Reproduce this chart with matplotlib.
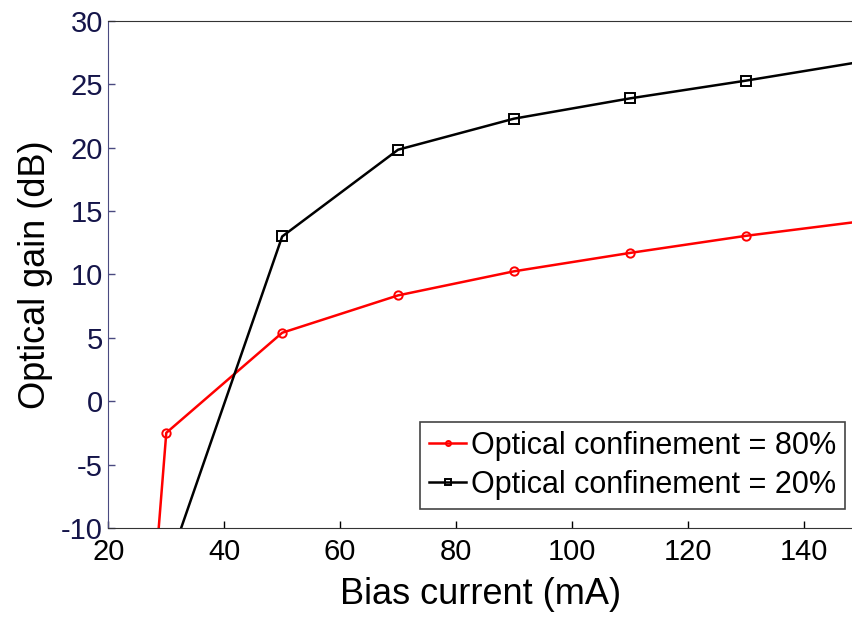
import numpy as np
import matplotlib.pyplot as plt

plt.rcParams['font.family'] = ['Liberation Sans', 'DejaVu Sans']
plt.rcParams['axes.unicode_minus'] = False

# bias current (mA) and optical gain (dB)
current_80 = [28, 30, 50, 70, 90, 110, 130, 150]
gain_80 = [-14.0, -2.5, 5.4, 8.35, 10.25, 11.7, 13.05, 14.2]
current_20 = [30, 50, 70, 90, 110, 130, 150]
gain_20 = [-13.4, 13.0, 19.85, 22.3, 23.9, 25.3, 26.8]

labels = ['Optical confinement = 80%', 'Optical confinement = 20%']
x_ticks = [20, 40, 60, 80, 100, 120, 140]
y_ticks = [-10, -5, 0, 5, 10, 15, 20, 25, 30]

fig = plt.figure(figsize=(8.53, 6.21), dpi=100)
ax = fig.add_axes([0.127, 0.150, 0.873, 0.816])

ax.plot(current_80, gain_80, '-o', color='red', lw=1.8, ms=6,
        mfc='none', mew=1.4, label=labels[0])
ax.plot(current_20, gain_20, '-s', color='black', lw=1.8, ms=6.5,
        mfc='none', mew=1.4, label=labels[1])

ax.set_xlim(20, 148.5)
ax.set_ylim(-10, 30)
ax.set_xticks(x_ticks)
ax.set_yticks(y_ticks)
ax.tick_params(direction='in', length=5, width=1, labelsize=21)
ax.tick_params(axis='x', pad=7, labelcolor='black')
ax.tick_params(axis='y', pad=4, labelcolor='#15154a', color='#4a4a80')

ax.spines['left'].set_color('#4a4a80')
ax.spines['top'].set_color('#333333')
ax.spines['bottom'].set_color('#333333')
ax.spines['right'].set_visible(False)

ax.set_xlabel('Bias current (mA)', fontsize=26, labelpad=8)
ax.set_ylabel('Optical gain (dB)', fontsize=26, labelpad=6)

leg = ax.legend(loc='lower right', bbox_to_anchor=(845 / 853, 1 - 509 / 621),
                bbox_transform=fig.transFigure, fontsize=22, fancybox=False,
                framealpha=1, edgecolor='#444444', handlelength=1.2,
                handletextpad=0.15, borderpad=0.3, labelspacing=0.3,
                borderaxespad=0, markerscale=0.6)
leg.get_frame().set_linewidth(1.2)

fig.savefig('out.png', dpi=100)
